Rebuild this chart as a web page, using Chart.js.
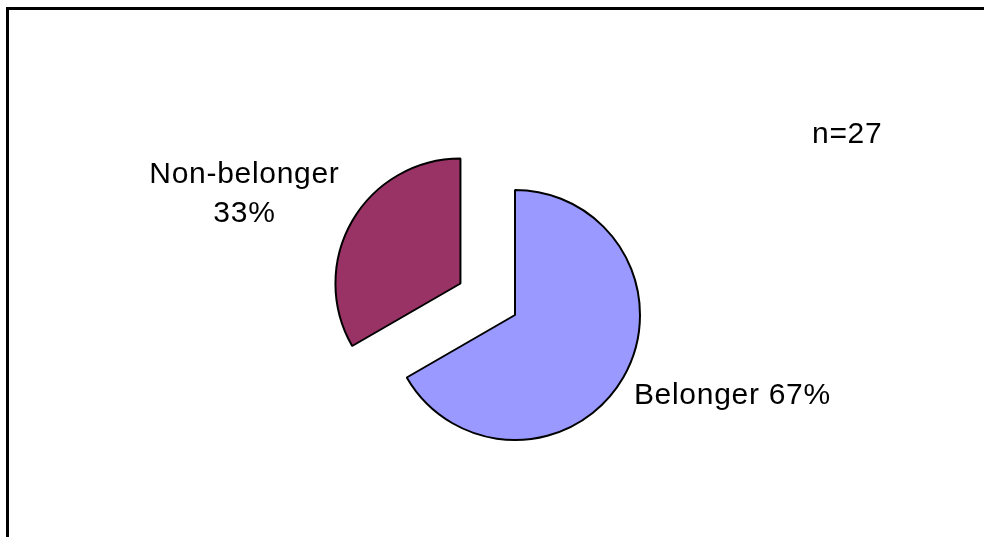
<!DOCTYPE html>
<html>
<head>
<meta charset="utf-8">
<script src="https://cdn.jsdelivr.net/npm/chart.js@4/dist/chart.umd.min.js"></script>
<style>
  html, body { margin: 0; padding: 0; background: #fff; overflow: hidden; }
  #wrap { position: relative; width: 984px; height: 537px; }
  #frame {
    position: absolute; left: 6px; top: 7px; width: 1000px; height: 560px;
    border-top: 3px solid #000; border-left: 3px solid #000; box-sizing: border-box;
  }
  #pieChart { position: absolute; left: 0; top: 0; }
</style>
</head>
<body>
<div id="wrap">
  <div id="frame"></div>
  <canvas id="pieChart" width="984" height="537"></canvas>
</div>
<script>
// pie: respondents by group (n=27)
const categories = ['Belonger', 'Non-belonger'];
const counts = [18, 9];
const sliceColors = ['#9999FF', '#993366'];
const explodeSlice = [0, 63];     // px pulled out along the slice's middle angle
const wrapLabel = [false, true];  // put the percent on its own line

const FONT = '30px "Liberation Sans", Arial, sans-serif';

// move exploded slices out after the library has laid them out
const explodePlugin = {
  id: 'explode',
  afterDatasetUpdate(chart, args) {
    const meta = chart.getDatasetMeta(args.index);
    meta.data.forEach((arc, i) => {
      const d = explodeSlice[i] || 0;
      if (!d) return;
      const mid = (arc.startAngle + arc.endAngle) / 2;
      arc.x += Math.cos(mid) * d;
      arc.y += Math.sin(mid) * d;
    });
  }
};

// outside labels plus the n= note
const labelPlugin = {
  id: 'sliceLabels',
  afterDatasetsDraw(chart) {
    const ctx = chart.ctx;
    const meta = chart.getDatasetMeta(0);
    const total = counts.reduce((a, b) => a + b, 0);
    ctx.save();
    ctx.font = FONT;
    ctx.fillStyle = '#000';
    ctx.textBaseline = 'alphabetic';
    if ('letterSpacing' in ctx) ctx.letterSpacing = '0.7px';
    const lineH = 39;

    meta.data.forEach((arc, i) => {
      const pct = Math.round(counts[i] / total * 100) + '%';
      const lines = wrapLabel[i] ? [categories[i], pct] : [categories[i] + ' ' + pct];
      const mid = (arc.startAngle + arc.endAngle) / 2;
      const r = arc.outerRadius + 10;
      const ax = arc.x + Math.cos(mid) * r;
      const ay = arc.y + Math.sin(mid) * r;
      const widths = lines.map(l => ctx.measureText(l).width);
      const blockW = Math.max(...widths);
      let left, firstBase;
      if (Math.cos(mid) >= 0) left = ax + 2;
      else left = ax - 4 - blockW;
      if (Math.sin(mid) >= 0) firstBase = ay + 21;
      else firstBase = ay + 6 - (lines.length - 1) * lineH;
      ctx.textAlign = 'center';
      lines.forEach((l, k) => {
        ctx.fillText(l, left + blockW / 2, firstBase + k * lineH);
      });
    });

    ctx.textAlign = 'left';
    ctx.fillText('n=' + total, 812, 143);
    ctx.restore();
  }
};

const canvas = document.getElementById('pieChart');
const ctx = canvas.getContext('2d');

new Chart(ctx, {
  type: 'pie',
  data: {
    labels: categories,
    datasets: [{
      data: counts,
      backgroundColor: sliceColors,
      borderColor: '#000',
      borderWidth: 2,
      hoverOffset: 0
    }]
  },
  options: {
    responsive: false,
    animation: false,
    radius: 125,
    layout: {
      padding: { left: 200, right: 154, top: 150, bottom: 57 }
    },
    plugins: {
      legend: { display: false },
      tooltip: { enabled: false },
      title: { display: false }
    }
  },
  plugins: [explodePlugin, labelPlugin]
});
</script>
</body>
</html>
